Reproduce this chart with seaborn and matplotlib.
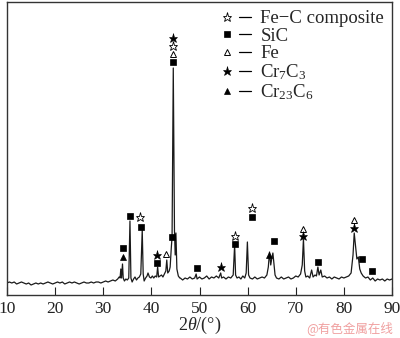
import numpy as np
import pandas as pd
import seaborn as sns
import matplotlib.pyplot as plt
from matplotlib.lines import Line2D
from matplotlib.legend_handler import HandlerTuple

# XRD pattern (intensity in arbitrary units)
two_theta = [10.0, 10.5, 11.0, 11.5, 12.0, 12.5, 13.0, 13.5, 14.0, 14.5, 15.0, 15.5, 16.0, 16.5,
             17.0, 17.5, 18.0, 18.5, 19.0, 19.5, 20.0, 20.5, 21.0, 21.5, 22.0, 22.5, 23.0, 23.5,
             24.0, 24.5, 25.0, 25.5, 26.0, 26.5, 27.0, 27.5, 28.0, 28.5, 29.0, 29.5, 30.0, 30.5,
             31.0, 31.5, 32.0, 32.5, 33.0,
             33.3, 33.5, 33.65, 33.8, 34.0, 34.15, 34.4, 34.7, 35.0, 35.3, 35.55, 35.75, 36.0,
             36.3, 36.6, 36.9, 37.2, 37.5, 37.8, 38.1, 38.3, 38.5, 38.8, 39.1, 39.3, 39.6, 39.9,
             40.2, 40.5, 40.8, 41.1, 41.3, 41.5, 41.8, 42.1, 42.4, 42.7, 43.0, 43.2, 43.4, 43.7,
             43.9, 44.15, 44.3, 44.55, 44.8, 44.95, 45.1, 45.3, 45.6, 45.9,
             46.0, 46.5, 47.0, 47.5, 48.0, 48.5, 49.0, 49.3, 49.5, 50.0, 50.5, 51.0, 51.5, 52.0,
             52.5, 53.0, 53.5, 54.0, 54.4, 54.6, 55.0, 55.5, 56.0, 56.5, 57.0, 57.3, 57.5, 57.8,
             58.2, 58.6, 59.0, 59.4, 59.7, 59.95, 60.2, 60.5, 61.0, 61.5, 62.0, 62.5, 63.0, 63.5,
             64.0, 64.3, 64.55, 64.8, 65.0, 65.25, 65.5, 65.7, 66.0, 66.5, 67.0, 67.5, 68.0, 68.5,
             69.0, 69.5, 70.0, 70.5, 71.0, 71.35, 71.6, 71.85, 72.1, 72.5, 72.9, 73.3, 73.6, 74.0,
             74.3, 74.6, 74.85, 75.2, 75.5, 76.0, 76.5, 77.0, 77.5, 78.0, 78.5, 79.0, 79.5, 80.0,
             80.5, 81.0, 81.5, 81.9, 82.15, 82.4, 82.7, 83.0, 83.3, 83.6, 84.0, 84.5, 85.0, 85.5,
             86.0, 86.5, 87.0, 87.5, 88.0, 88.5, 89.0, 89.5, 90.0]
intensity = [12, 13, 12, 13, 11, 12, 13, 12, 11, 12, 10, 11, 12, 11,
             12, 11, 12, 13, 12, 11, 12, 13, 12, 13, 11, 12, 13, 12,
             13, 12, 11, 12, 13, 12, 12, 13, 12, 13, 13, 12, 13, 14,
             13, 14, 15, 14, 16,
             18, 17, 26, 17, 31, 17, 14, 16, 15, 17, 74, 17, 13,
             16, 18, 15, 17, 18, 21, 65, 21, 14, 17, 19, 22, 18, 17,
             19, 17, 19, 18, 28, 18, 19, 20, 18, 21, 24, 35, 22, 24,
             28, 48, 58, 227, 64, 40, 62, 26, 19, 17,
             17, 15, 17, 16, 18, 16, 17, 21, 16, 18, 16, 17, 19, 16,
             18, 17, 19, 17, 22, 17, 18, 16, 18, 17, 20, 50, 20, 17,
             18, 16, 19, 17, 22, 53, 20, 17, 16, 18, 16, 17, 18, 17,
             20, 28, 43, 30, 36, 42, 30, 20, 17, 16, 18, 16, 17, 18,
             16, 17, 19, 18, 21, 30, 56, 24, 18, 19, 17, 25, 18, 20,
             19, 28, 20, 25, 18, 19, 17, 18, 16, 18, 17, 16, 18, 17,
             18, 19, 22, 40, 62, 50, 36, 38, 26, 22, 19, 17, 18, 15,
             17, 14, 16, 15, 16, 14, 16, 15, 16]

# phase markers (position of each symbol)
fec_x = [37.7, 44.4, 57.3, 61.0]
fec_y = [78, 249, 59, 87]
sic_x = [34.0, 35.6, 37.8, 41.1, 44.2, 44.4, 49.4, 57.3, 61.0, 65.5, 74.7, 83.8, 85.9]
sic_y = [47, 79, 68, 32, 58, 233, 27, 51, 78, 54, 33, 36, 24]
fe_x = [43.1, 44.4, 71.6, 82.1]
fe_y = [41, 241, 66, 75]
cr7_x = [41.1, 44.4, 54.5, 71.6, 82.1]
cr7_y = [40, 257, 28, 59, 67]
cr23_x = [34.0, 64.5]
cr23_y = [38, 40]

labels = ['Fe\u2212C composite', 'SiC', 'Fe', r'Cr$_7$C$_3$', r'Cr$_{23}$C$_6$']

sns.set_style('ticks')
plt.rcParams['font.family'] = ['Liberation Serif', 'DejaVu Serif']
plt.rcParams['mathtext.fontset'] = 'custom'
plt.rcParams['mathtext.rm'] = 'Liberation Serif'
plt.rcParams['mathtext.it'] = 'Liberation Serif:italic'

fig = plt.figure(figsize=(4, 3.38), dpi=100)
ax = fig.add_axes([7 / 400, 43 / 338, 385 / 400, 293 / 338])

df = pd.DataFrame({'two_theta': two_theta, 'intensity': intensity})
sns.lineplot(data=df, x='two_theta', y='intensity', ax=ax, color='#1a1a1a', lw=0.9,
             estimator=None, sort=False)

styles = [
    dict(marker='*', mfc='white', mec='black', ms=6.5, mew=0.6),
    dict(marker='s', mfc='black', mec='black', ms=5, mew=0.5),
    dict(marker='^', mfc='white', mec='black', ms=5, mew=0.7),
    dict(marker='*', mfc='black', mec='black', ms=6.5, mew=0.4),
    dict(marker='^', mfc='black', mec='black', ms=5, mew=0.5),
]
for (xs, ys), st in zip([(fec_x, fec_y), (sic_x, sic_y), (fe_x, fe_y),
                         (cr7_x, cr7_y), (cr23_x, cr23_y)], styles):
    ax.plot(xs, ys, ls='none', **st)

ax.set_xlim(10, 90)
ax.set_ylim(0, 293)
ax.set_xticks(range(10, 91, 10))
ax.set_yticks([])
ax.tick_params(axis='x', direction='in', length=6, width=0.8, labelsize=12.5, pad=4, colors='#222222')
for sp in ax.spines.values():
    sp.set_linewidth(1.0)
    sp.set_color('#333333')
ax.set_xlabel('$\\mathit{2\\theta}$/(\u00b0)', fontsize=13, labelpad=-1)
ax.set_ylabel('')

handles = [(Line2D([], [], ls='none', **st), Line2D([], [], color='black', lw=0.9)) for st in styles]
ax.legend(handles, labels, handler_map={tuple: HandlerTuple(ndivide=None, pad=0.3)},
          loc='upper left', bbox_to_anchor=(0.556, 0.972), frameon=False, fontsize=13.5,
          handlelength=1.6, handletextpad=0.5, labelspacing=0.02, borderpad=0, borderaxespad=0)

fig.text(0.983, 10 / 338, '@有色金属在线', color='#f0a0a0', fontsize=9,
         family=['Noto Sans CJK SC', 'DejaVu Sans'], ha='right', va='center')

fig.savefig('out.png', dpi=100)
